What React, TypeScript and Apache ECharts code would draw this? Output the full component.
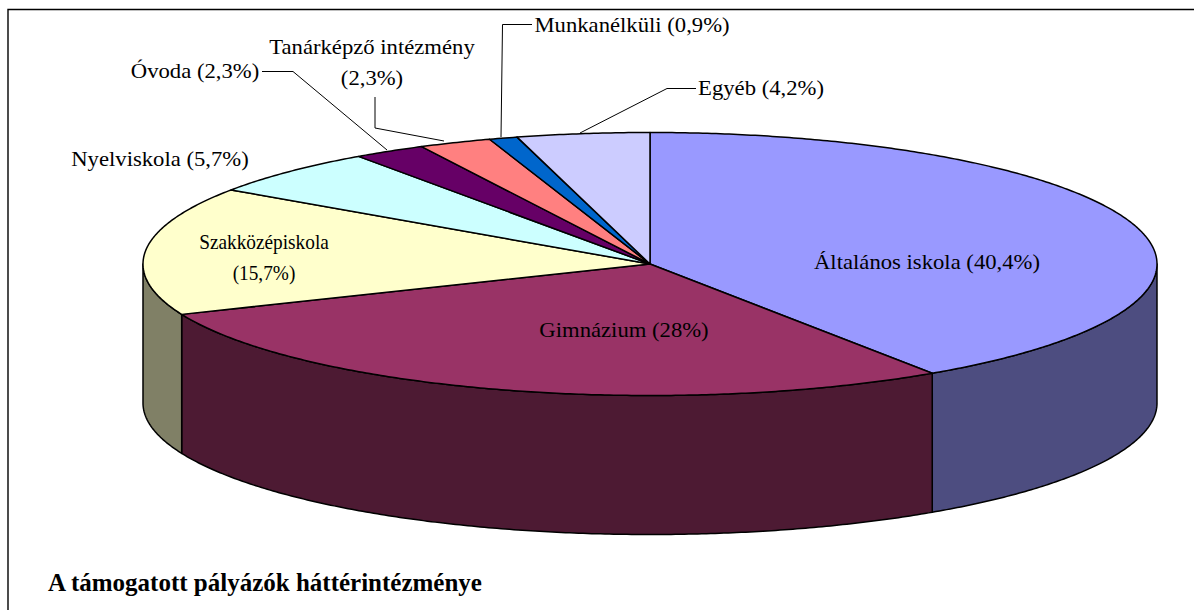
import React, { useEffect, useRef } from "react";
import * as echarts from "echarts";

const categories = ["Általános iskola", "Gimnázium", "Szakközépiskola", "Nyelviskola", "Óvoda", "Tanárképző intézmény", "Munkanélküli", "Egyéb"];
const values = [40.4, 28, 15.7, 5.7, 2.3, 2.3, 0.9, 4.2];
const valueTexts = ["40,4%", "28%", "15,7%", "5,7%", "2,3%", "2,3%", "0,9%", "4,2%"];
const topColors = ["#9999FF", "#993366", "#FFFFCC", "#CCFFFF", "#660066", "#FF8080", "#0066CC", "#CCCCFF"];
const wallColors = ["#4D4D80", "#4D1A33", "#808066", "#667F7F", "#330033", "#804040", "#003366", "#666680"];
const labelLayouts = [
  { x: 927, y: 262, w: 1, s: 1.08 },
  { x: 624, y: 330, w: 1, s: 1.08 },
  { x: 264, y: 257, w: 2, s: 0.92 },
  { x: 160, y: 159, w: 1, s: 1.08 },
  { x: 195, y: 71, w: 1, s: 1.08 },
  { x: 372, y: 63, w: 2, s: 1.08 },
  { x: 632, y: 25, w: 1, s: 1.08 },
  { x: 761, y: 88, w: 1, s: 1.08 },
];
const leaderLines = [
  null, null, null, null,
  [[262, 71.5], [293, 71.5], [387, 150]],
  [[375, 97], [375, 128], [444, 141]],
  [[532, 24.5], [502.5, 24.5], [501, 137]],
  [[696, 88.5], [667, 88.5], [580, 133]],
];

const CX = 650, CY = 264, RX = 507, RY = 131.5, DEPTH = 139;
const FONT = "'Liberation Serif', 'Times New Roman', serif";
const total = values.reduce((a, b) => a + b, 0);
const pt = (deg: number, dy = 0): number[] => {
  const r = (deg * Math.PI) / 180;
  return [CX + RX * Math.sin(r), CY - RY * Math.cos(r) + dy];
};
const arc = (from: number, to: number, dy = 0): number[][] => {
  const n = Math.max(2, Math.ceil(Math.abs(to - from) * 2));
  const out: number[][] = [];
  for (let i = 0; i <= n; i++) out.push(pt(from + ((to - from) * i) / n, dy));
  return out;
};

export default function App() {
  const ref = useRef<HTMLDivElement>(null);
  useEffect(() => {
    const chart = echarts.init(ref.current!, undefined, { renderer: "svg" });
    const starts: number[] = [];
    let acc = 0;
    values.forEach((v) => { starts.push(acc); acc += (v / total) * 360; });
    const data = values.map((v, i) => [v, starts[i], starts[i] + (v / total) * 360, i]);
    chart.setOption({
      animation: false,
      backgroundColor: "#fff",
      title: {
        text: "A támogatott pályázók háttérintézménye",
        left: 43, top: 565,
        textStyle: { fontFamily: FONT, fontSize: 25, fontWeight: "bold", color: "#000" },
      },
      graphic: [
        { type: "polyline", z: 0, shape: { points: [[8, 620], [8, 9.5], [1200, 9.5]] }, style: { fill: "none", stroke: "#000", lineWidth: 1.4 } },
      ],
      series: [
        {
          type: "custom",
          coordinateSystem: "none",
          silent: true,
          z: 2,
          data,
          renderItem: (_p: any, api: any) => {
            const a0 = api.value(1), a1 = api.value(2), idx = api.value(3);
            const lo = Math.max(a0, 90), hi = Math.min(a1, 270);
            const children: any[] = [];
            if (lo < hi) {
              const top = arc(lo, hi);
              const bottom = arc(hi, lo, DEPTH);
              children.push({ type: "polygon", shape: { points: top.concat(bottom) }, style: { fill: wallColors[idx], stroke: "#000", lineWidth: 1.5, lineJoin: "round" } });
            }
            children.push({
              type: "polygon",
              shape: { points: [[CX, CY] as number[]].concat(arc(a0, a1)) },
              style: { fill: topColors[idx], stroke: "#000", lineWidth: 1.5, lineJoin: "round" },
            });
            return { type: "group", children };
          },
        },
        {
          type: "custom",
          coordinateSystem: "none",
          silent: true,
          z: 3,
          data,
          renderItem: (_p: any, api: any) => {
            const idx = api.value(3);
            const l = labelLayouts[idx];
            const pct = `(${valueTexts[idx]})`;
            const text = l.w === 2 ? `${categories[idx]}\n${pct}` : `${categories[idx]} ${pct}`;
            const children: any[] = [{
              type: "text",
              x: l.x, y: l.y,
              scaleX: l.s,
              style: { text, fill: "#000", font: `21px ${FONT}`, fontSize: 21, fontFamily: FONT, align: "center", verticalAlign: "middle", lineHeight: 31 },
            }];
            const line = leaderLines[idx];
            if (line) children.push({ type: "polyline", shape: { points: line }, style: { fill: "none", stroke: "#000", lineWidth: 1 } });
            return { type: "group", children };
          },
        },
      ],
    });
    return () => chart.dispose();
  }, []);
  return <div ref={ref} style={{ position: "fixed", left: 0, top: 0, width: 1194, height: 610 }} />;
}
